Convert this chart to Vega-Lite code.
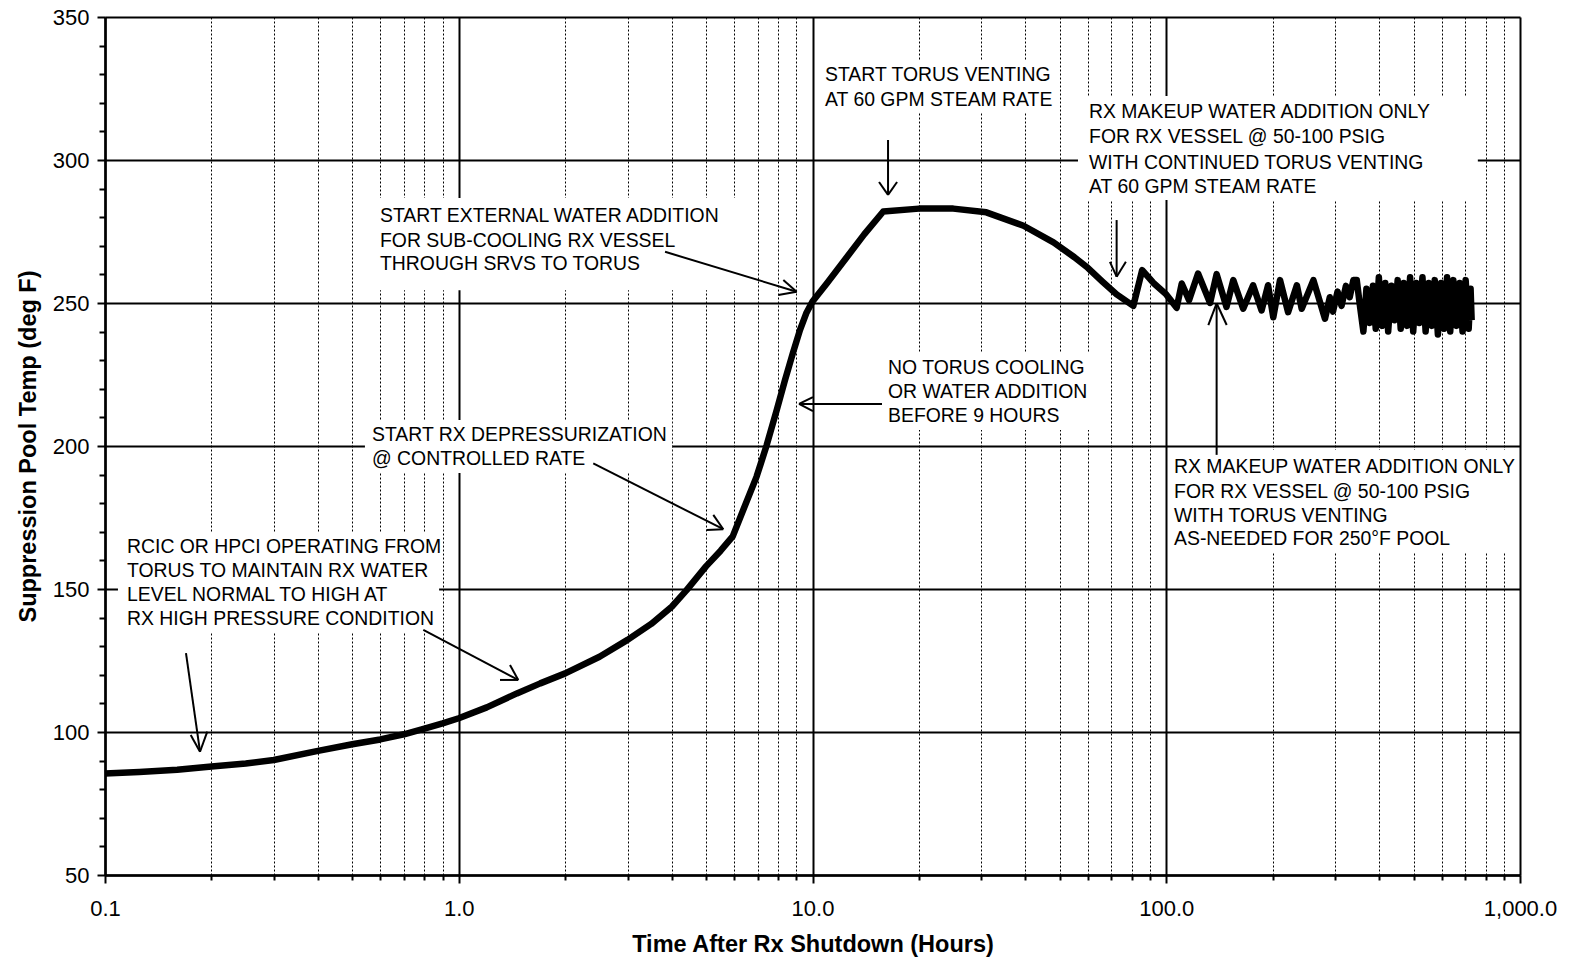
{
  "$schema": "https://vega.github.io/schema/vega-lite/v6.json",
  "autosize": "none",
  "width": 1415,
  "height": 858,
  "padding": {"left": 105, "top": 17, "right": 49, "bottom": 83},
  "background": "white",
  "config": {
    "view": {"stroke": null},
    "font": "Liberation Sans"
  },
  "datasets": {
    "curve": [
      {"t": 0.1, "temp": 85.5}, {"t": 0.125, "temp": 86.0}, {"t": 0.16, "temp": 86.8}, {"t": 0.2, "temp": 87.9},
      {"t": 0.25, "temp": 89.0}, {"t": 0.3, "temp": 90.2}, {"t": 0.4, "temp": 93.4}, {"t": 0.5, "temp": 95.7},
      {"t": 0.6, "temp": 97.4}, {"t": 0.7, "temp": 99.2}, {"t": 0.8, "temp": 101.2}, {"t": 0.9, "temp": 103.0},
      {"t": 1.0, "temp": 104.8}, {"t": 1.2, "temp": 108.6}, {"t": 1.46, "temp": 113.5}, {"t": 1.7, "temp": 117.0},
      {"t": 2.0, "temp": 120.5}, {"t": 2.5, "temp": 126.3}, {"t": 3.0, "temp": 132.2}, {"t": 3.5, "temp": 137.8},
      {"t": 4.0, "temp": 143.8}, {"t": 4.4, "temp": 149.5}, {"t": 5.0, "temp": 157.9}, {"t": 5.5, "temp": 163.4},
      {"t": 5.95, "temp": 168.4}, {"t": 6.37, "temp": 177.6}, {"t": 6.95, "temp": 189.3}, {"t": 7.42, "temp": 200.3},
      {"t": 7.94, "temp": 213.0}, {"t": 8.36, "temp": 223.0}, {"t": 8.8, "temp": 232.5}, {"t": 9.22, "temp": 240.6},
      {"t": 9.6, "temp": 246.4}, {"t": 10.0, "temp": 250.5},
      {"t": 11.0, "temp": 257.0}, {"t": 12.5, "temp": 266.0}, {"t": 14.0, "temp": 274.0}, {"t": 15.85, "temp": 282.0},
      {"t": 20.0, "temp": 283.0}, {"t": 25.0, "temp": 283.0}, {"t": 31.0, "temp": 281.7}, {"t": 39.5, "temp": 277.0},
      {"t": 48.0, "temp": 271.2}, {"t": 55.0, "temp": 266.0}, {"t": 60.0, "temp": 262.3}, {"t": 66.0, "temp": 257.5},
      {"t": 72.4, "temp": 253.0}, {"t": 80.7, "temp": 249.0}, {"t": 85.5, "temp": 261.5}, {"t": 92.0, "temp": 257.0},
      {"t": 100.0, "temp": 253.0}, {"t": 107.0, "temp": 248.3}, {"t": 110.6, "temp": 256.8}, {"t": 116.0, "temp": 251.0},
      {"t": 123.0, "temp": 260.3}, {"t": 133.0, "temp": 250.0}, {"t": 138.8, "temp": 260.1}, {"t": 148.0, "temp": 248.6},
      {"t": 154.7, "temp": 258.0}, {"t": 165.0, "temp": 248.0}, {"t": 176.0, "temp": 256.2}, {"t": 186.0, "temp": 247.4},
      {"t": 194.0, "temp": 256.2}, {"t": 200.7, "temp": 245.0}, {"t": 209.7, "temp": 258.0}, {"t": 221.0, "temp": 246.8},
      {"t": 234.0, "temp": 256.2}, {"t": 241.5, "temp": 248.0}, {"t": 260.6, "temp": 258.0}, {"t": 281.0, "temp": 244.5},
      {"t": 290.0, "temp": 252.0}, {"t": 296.0, "temp": 247.0}, {"t": 305.0, "temp": 254.0}, {"t": 313.0, "temp": 249.0},
      {"t": 322.0, "temp": 256.0}, {"t": 330.0, "temp": 252.0}, {"t": 338.0, "temp": 258.0}, {"t": 345.6, "temp": 258.0},
      {"t": 352.0, "temp": 250.0}, {"t": 360.8, "temp": 240.0}, {"t": 368.0, "temp": 255.0}, {"t": 376.0, "temp": 243.0},
      {"t": 384.0, "temp": 256.0}, {"t": 391.0, "temp": 241.0}, {"t": 399.0, "temp": 259.0}, {"t": 407.0, "temp": 242.0},
      {"t": 416.0, "temp": 257.0}, {"t": 424.0, "temp": 240.0}, {"t": 433.0, "temp": 256.0}, {"t": 442.0, "temp": 244.0},
      {"t": 451.0, "temp": 258.0}, {"t": 460.0, "temp": 241.0}, {"t": 469.0, "temp": 257.0}, {"t": 479.0, "temp": 242.0},
      {"t": 489.0, "temp": 259.0}, {"t": 499.0, "temp": 240.0}, {"t": 509.0, "temp": 257.0}, {"t": 519.0, "temp": 243.0},
      {"t": 530.0, "temp": 259.0}, {"t": 541.0, "temp": 240.0}, {"t": 552.0, "temp": 257.0}, {"t": 563.0, "temp": 242.0},
      {"t": 574.0, "temp": 258.0}, {"t": 586.0, "temp": 239.0}, {"t": 598.0, "temp": 257.0}, {"t": 610.0, "temp": 241.0},
      {"t": 622.0, "temp": 259.0}, {"t": 635.0, "temp": 240.0}, {"t": 648.0, "temp": 258.0}, {"t": 661.0, "temp": 242.0},
      {"t": 675.0, "temp": 257.0}, {"t": 688.0, "temp": 240.0}, {"t": 702.0, "temp": 258.0}, {"t": 716.0, "temp": 241.0},
      {"t": 725.0, "temp": 255.0}, {"t": 730.0, "temp": 244.0}
    ],
    "boxes": [
      {"t": 10.3, "t2": 49.4, "temp": 335.0, "temp2": 316.4},
      {"t": 56.3, "t2": 760, "temp": 322.4, "temp2": 286.0},
      {"t": 0.554, "t2": 6.04, "temp": 286.7, "temp2": 254.5},
      {"t": 15.52, "t2": 62.9, "temp": 232.5, "temp2": 205.6},
      {"t": 0.543, "t2": 4.01, "temp": 209.1, "temp2": 190.6},
      {"t": 0.1088, "t2": 0.88, "temp": 169.9, "temp2": 134.95},
      {"t": 102.5, "t2": 986, "temp": 198.6, "temp2": 162.9}
    ],
    "arrows": [
      {"t": 0.1694, "temp": 127.6, "t2": 0.1856, "temp2": 93.1},
      {"t": 0.1747, "temp": 98.95, "t2": 0.1856, "temp2": 93.1},
      {"t": 0.1946, "temp": 100.1, "t2": 0.1856, "temp2": 93.1},
      {"t": 0.794, "temp": 135.7, "t2": 1.473, "temp2": 118.2},
      {"t": 1.308, "temp": 118.2, "t2": 1.473, "temp2": 118.2},
      {"t": 1.396, "temp": 123.4, "t2": 1.473, "temp2": 118.2},
      {"t": 2.40, "temp": 193.95, "t2": 5.595, "temp2": 170.9},
      {"t": 5.02, "temp": 170.6, "t2": 5.595, "temp2": 170.9},
      {"t": 5.243, "temp": 175.9, "t2": 5.595, "temp2": 170.9},
      {"t": 3.83, "temp": 267.9, "t2": 9.02, "temp2": 253.95},
      {"t": 8.005, "temp": 252.8, "t2": 9.02, "temp2": 253.95},
      {"t": 8.27, "temp": 258.0, "t2": 9.02, "temp2": 253.95},
      {"t": 15.72, "temp": 214.7, "t2": 9.16, "temp2": 214.7},
      {"t": 10.03, "temp": 217.1, "t2": 9.16, "temp2": 214.7},
      {"t": 10.03, "temp": 212.2, "t2": 9.16, "temp2": 214.7},
      {"t": 16.35, "temp": 307.0, "t2": 16.35, "temp2": 287.8},
      {"t": 15.42, "temp": 292.3, "t2": 16.35, "temp2": 287.8},
      {"t": 17.34, "temp": 292.3, "t2": 16.35, "temp2": 287.8},
      {"t": 72.4, "temp": 279.0, "t2": 72.4, "temp2": 259.2},
      {"t": 69.3, "temp": 264.4, "t2": 72.4, "temp2": 259.2},
      {"t": 76.9, "temp": 264.4, "t2": 72.4, "temp2": 259.2},
      {"t": 138.8, "temp": 196.9, "t2": 138.8, "temp2": 249.9},
      {"t": 131.5, "temp": 242.3, "t2": 138.8, "temp2": 249.9},
      {"t": 148.2, "temp": 242.3, "t2": 138.8, "temp2": 249.9}
    ],
    "notes": [
      {"t": 10.85, "temp": 329.7, "label": "START TORUS VENTING"},
      {"t": 10.85, "temp": 321.0, "label": "AT 60 GPM STEAM RATE"},
      {"t": 60.5, "temp": 316.9, "label": "RX MAKEUP WATER ADDITION ONLY"},
      {"t": 60.5, "temp": 307.9, "label": "FOR RX VESSEL @ 50-100 PSIG"},
      {"t": 60.5, "temp": 299.05, "label": "WITH CONTINUED TORUS VENTING"},
      {"t": 60.5, "temp": 290.7, "label": "AT 60 GPM STEAM RATE"},
      {"t": 0.599, "temp": 280.4, "label": "START EXTERNAL WATER ADDITION"},
      {"t": 0.599, "temp": 271.7, "label": "FOR SUB-COOLING RX VESSEL"},
      {"t": 0.599, "temp": 263.6, "label": "THROUGH SRVS TO TORUS"},
      {"t": 16.35, "temp": 227.3, "label": "NO TORUS COOLING"},
      {"t": 16.35, "temp": 218.9, "label": "OR WATER ADDITION"},
      {"t": 16.35, "temp": 210.4, "label": "BEFORE 9 HOURS"},
      {"t": 0.5685, "temp": 203.85, "label": "START RX DEPRESSURIZATION"},
      {"t": 0.5685, "temp": 195.45, "label": "@ CONTROLLED RATE"},
      {"t": 0.1154, "temp": 164.7, "label": "RCIC OR HPCI OPERATING FROM"},
      {"t": 0.1154, "temp": 156.3, "label": "TORUS TO MAINTAIN RX WATER"},
      {"t": 0.1154, "temp": 147.9, "label": "LEVEL NORMAL TO HIGH AT"},
      {"t": 0.1154, "temp": 139.5, "label": "RX HIGH PRESSURE CONDITION"},
      {"t": 105.2, "temp": 192.8, "label": "RX MAKEUP WATER ADDITION ONLY"},
      {"t": 105.2, "temp": 184.0, "label": "FOR RX VESSEL @ 50-100 PSIG"},
      {"t": 105.2, "temp": 175.5, "label": "WITH TORUS VENTING"},
      {"t": 105.2, "temp": 167.4, "label": "AS-NEEDED FOR 250°F POOL"}
    ]
  },
  "encoding": {
    "x": {
      "field": "t",
      "type": "quantitative",
      "scale": {"type": "log", "domain": [0.1, 1000], "nice": false},
      "axis": {
        "title": "Time After Rx Shutdown (Hours)",
        "titleFont": "Liberation Sans",
        "titleFontWeight": "bold",
        "titleFontSize": 23.5,
        "titleColor": "black",
        "titlePadding": 13,
        "values": [0.1, 0.2, 0.3, 0.4, 0.5, 0.6, 0.7, 0.8, 0.9, 1, 2, 3, 4, 5, 6, 7, 8, 9, 10, 20, 30, 40, 50, 60, 70, 80, 90, 100, 200, 300, 400, 500, 600, 700, 800, 900, 1000],
        "labelExpr": "abs(log(datum.value)/LN10 - round(log(datum.value)/LN10)) < 0.001 ? format(datum.value, ',.1f') : ''",
        "labelFont": "Liberation Sans",
        "labelFontSize": 22,
        "labelColor": "black",
        "labelPadding": 15,
        "labelFlush": false,
        "labelOverlap": false,
        "domainColor": "black",
        "domainWidth": 2.5,
        "tickColor": "black",
        "tickWidth": 2,
        "tickSize": {"condition": {"test": "abs(log(datum.value)/LN10 - round(log(datum.value)/LN10)) < 0.001", "value": 8}, "value": 5},
        "grid": true,
        "gridColor": "black",
        "gridOpacity": 1,
        "gridWidth": {"condition": {"test": "abs(log(datum.value)/LN10 - round(log(datum.value)/LN10)) < 0.001", "value": 2}, "value": 1},
        "gridDash": {"condition": {"test": "abs(log(datum.value)/LN10 - round(log(datum.value)/LN10)) < 0.001", "value": []}, "value": [2, 2]}
      }
    },
    "y": {
      "field": "temp",
      "type": "quantitative",
      "scale": {"domain": [50, 350], "nice": false, "zero": false},
      "axis": {
        "title": "Suppression Pool Temp (deg F)",
        "titleFont": "Liberation Sans",
        "titleFontWeight": "bold",
        "titleFontSize": 23.5,
        "titleColor": "black",
        "titlePadding": 12,
        "values": [50, 60, 70, 80, 90, 100, 110, 120, 130, 140, 150, 160, 170, 180, 190, 200, 210, 220, 230, 240, 250, 260, 270, 280, 290, 300, 310, 320, 330, 340, 350],
        "labelExpr": "datum.value % 50 === 0 ? datum.value : ''",
        "labelFont": "Liberation Sans",
        "labelFontSize": 22,
        "labelColor": "black",
        "labelPadding": 8,
        "labelFlush": false,
        "labelOverlap": false,
        "domainColor": "black",
        "domainWidth": 2.5,
        "tickColor": "black",
        "tickWidth": 2,
        "tickSize": {"condition": {"test": "datum.value % 50 === 0", "value": 8}, "value": 6},
        "grid": true,
        "gridColor": "black",
        "gridWidth": 2,
        "gridOpacity": {"condition": {"test": "datum.value % 50 === 0", "value": 1}, "value": 0}
      }
    }
  },
  "layer": [
    {
      "data": {"name": "boxes"},
      "mark": {"type": "rect", "fill": "white", "stroke": null},
      "encoding": {
        "x2": {"field": "t2"},
        "y2": {"field": "temp2"}
      }
    },
    {
      "data": {"name": "curve"},
      "mark": {"type": "line", "color": "black", "strokeWidth": 6.5, "strokeJoin": "round"},
      "encoding": {}
    },
    {
      "data": {"name": "arrows"},
      "mark": {"type": "rule", "color": "black", "strokeWidth": 2},
      "encoding": {
        "x2": {"field": "t2"},
        "y2": {"field": "temp2"}
      }
    },
    {
      "data": {"name": "notes"},
      "mark": {"type": "text", "align": "left", "baseline": "middle", "font": "Liberation Sans", "fontSize": 19.4, "color": "black"},
      "encoding": {
        "text": {"field": "label", "type": "nominal"}
      }
    }
  ]
}
